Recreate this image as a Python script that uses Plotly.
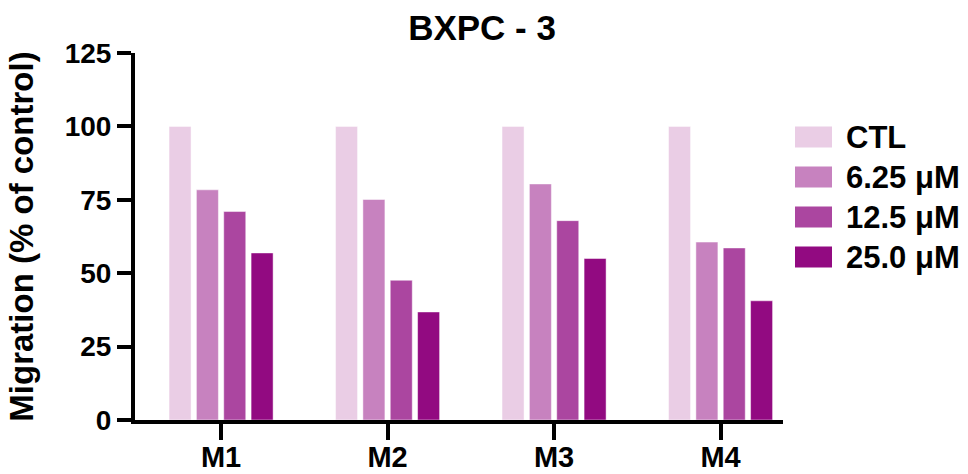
import plotly.graph_objects as go

# Migration data (% of control) for each compound at each dose
compounds = ["M1", "M2", "M3", "M4"]
series_names = ["CTL", "6.25 μM", "12.5 μM", "25.0 μM"]
ctl = [100, 100, 100, 100]
dose_625 = [78.4, 75.1, 80.4, 60.6]
dose_125 = [71.0, 47.6, 67.9, 58.6]
dose_250 = [56.9, 36.8, 55.0, 40.6]
series_values = [ctl, dose_625, dose_125, dose_250]
colors = ["#EACDE5", "#C782BF", "#AB46A0", "#920A81"]
y_ticks = [0, 25, 50, 75, 100, 125]

W, H = 968, 474
ML, MR, MT, MB = 135, 185, 53, 54
FONT = "Liberation Sans, Arial, Helvetica, sans-serif"

fig = go.Figure()
for name, vals, col in zip(series_names, series_values, colors):
    fig.add_trace(go.Bar(
        x=compounds, y=vals, name=name,
        marker=dict(color=col, line=dict(width=0.8, color="rgba(255,255,255,0.6)")),
        showlegend=False,
    ))

# Legend drawn as large swatches to the right of the plot area
plot_w = W - ML - MR
plot_h = H - MT - MB
shapes = []
annotations = []
for i, (name, col) in enumerate(zip(series_names, colors)):
    cy = 137 + 40 * i
    y0 = (H - MB - (cy + 10.5)) / plot_h
    y1 = (H - MB - (cy - 10.5)) / plot_h
    x0 = (795 - ML) / plot_w
    x1 = (832 - ML) / plot_w
    shapes.append(dict(type="rect", xref="paper", yref="paper",
                       x0=x0, x1=x1, y0=y0, y1=y1,
                       fillcolor=col, line=dict(width=0)))
    annotations.append(dict(xref="paper", yref="paper",
                            x=(844 - ML) / plot_w, y=(H - MB - cy) / plot_h,
                            xanchor="left", yanchor="middle", showarrow=False,
                            text=name,
                            font=dict(family=FONT, size=31, color="black", weight="bold")))

fig.update_layout(
    width=W, height=H,
    margin=dict(l=ML, r=MR, t=MT, b=MB, autoexpand=False),
    paper_bgcolor="white", plot_bgcolor="white",
    barmode="group", bargap=0.343, bargroupgap=0.195,
    title=dict(text="BXPC - 3", x=0.498, xref="container", xanchor="center",
               y=1 - 28 / H, yref="container", yanchor="middle",
               font=dict(family=FONT, size=35, color="black", weight="bold")),
    shapes=shapes,
    annotations=annotations,
    showlegend=False,
)

fig.update_xaxes(
    range=[-0.517, 3.375],
    showline=True, linewidth=4, linecolor="black",
    ticks="outside", ticklen=16, tickwidth=4, tickcolor="black",
    ticklabelstandoff=-8,
    tickfont=dict(family=FONT, size=29, color="black", weight="bold"),
    showgrid=False, zeroline=False, automargin=False,
)
fig.update_yaxes(
    range=[0, 125], tickvals=y_ticks,
    showline=True, linewidth=4, linecolor="black",
    ticks="outside", ticklen=14, tickwidth=4, tickcolor="black",
    tickfont=dict(family=FONT, size=28, color="black", weight="bold"),
    title=dict(text="Migration (% of control)", standoff=22,
               font=dict(family=FONT, size=33, color="black", weight="bold")),
    showgrid=False, zeroline=False, automargin=False,
)

fig.write_html("out.html")
